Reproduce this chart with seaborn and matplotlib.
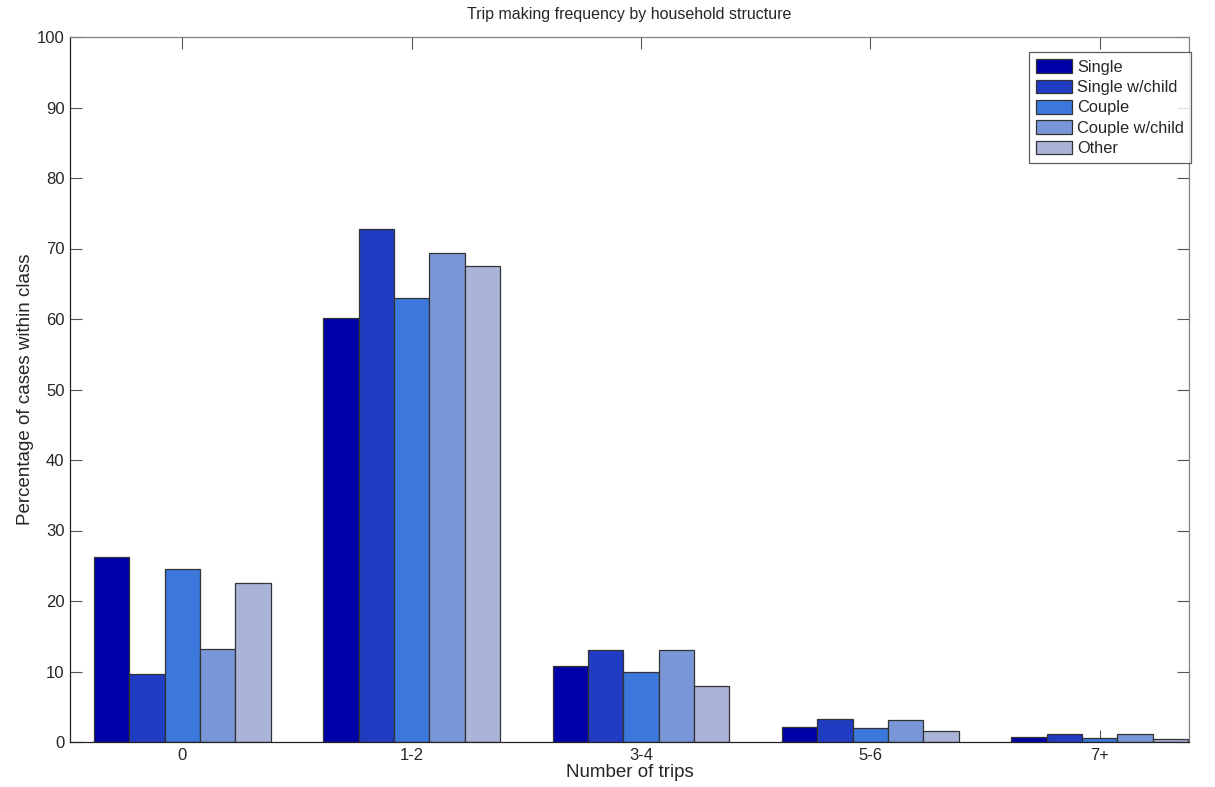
import matplotlib
matplotlib.use("Agg")
import matplotlib.pyplot as plt
import seaborn as sns
import pandas as pd

categories = ["0", "1-2", "3-4", "5-6", "7+"]
groups = ["Single", "Single w/child", "Couple", "Couple w/child", "Other"]
single = [26.2, 60.2, 10.8, 2.1, 0.7]
single_child = [9.7, 72.8, 13.05, 3.2, 1.2]
couple = [24.5, 63.0, 9.9, 1.95, 0.55]
couple_child = [13.2, 69.4, 13.05, 3.1, 1.2]
other = [22.5, 67.5, 7.9, 1.6, 0.45]
colors = ["#0000A8", "#1F3CC2", "#3C78DC", "#7896D8", "#A9B4D8"]

series = [single, single_child, couple, couple_child, other]
rows = []
for g, vals in zip(groups, series):
    for c, v in zip(categories, vals):
        rows.append({"trips": c, "group": g, "value": v})
df = pd.DataFrame(rows)

sns.set_style("white")
plt.rcParams["font.family"] = ["Liberation Sans", "DejaVu Sans"]

fig = plt.figure(figsize=(12.15, 7.87), dpi=100)
ax = fig.add_axes([70 / 1215, 45 / 787, (1189 - 70) / 1215, (742 - 37) / 787])

sns.barplot(data=df, x="trips", y="value", hue="group", order=categories,
            hue_order=groups, palette=colors, width=0.77, saturation=1,
            edgecolor="#333333", linewidth=0.9, errorbar=None, ax=ax)

ax.set_xlim(-0.49, 4.39)
ax.set_ylim(0, 100)
ax.set_yticks(range(0, 101, 10))
ax.set_xlabel("Number of trips", fontsize=13.5, labelpad=1)
ax.set_ylabel("Percentage of cases within class", fontsize=13.5, labelpad=2)
ax.set_title("Trip making frequency by household structure", fontsize=11.5, pad=13)
ax.tick_params(axis="both", direction="in", length=8.5, width=0.8, color="#555555",
               labelsize=12, top=True, right=True, bottom=True, left=True, pad=4)
for side, s in ax.spines.items():
    s.set_visible(True)
    s.set_linewidth(0.9)
    s.set_color("#222222" if side in ("left", "bottom") else "#808080")

leg = ax.legend(loc="upper right", bbox_to_anchor=(1.002, 0.979), fontsize=11.8,
                frameon=True, fancybox=False, edgecolor="#333333",
                handlelength=2.2, handleheight=0.9, handletextpad=0.3,
                labelspacing=0.3, borderpad=0.45, borderaxespad=0.0)
leg.get_frame().set_linewidth(0.9)
for h in leg.legend_handles:
    h.set_edgecolor("#333333")

fig.savefig("out.png", dpi=100)
